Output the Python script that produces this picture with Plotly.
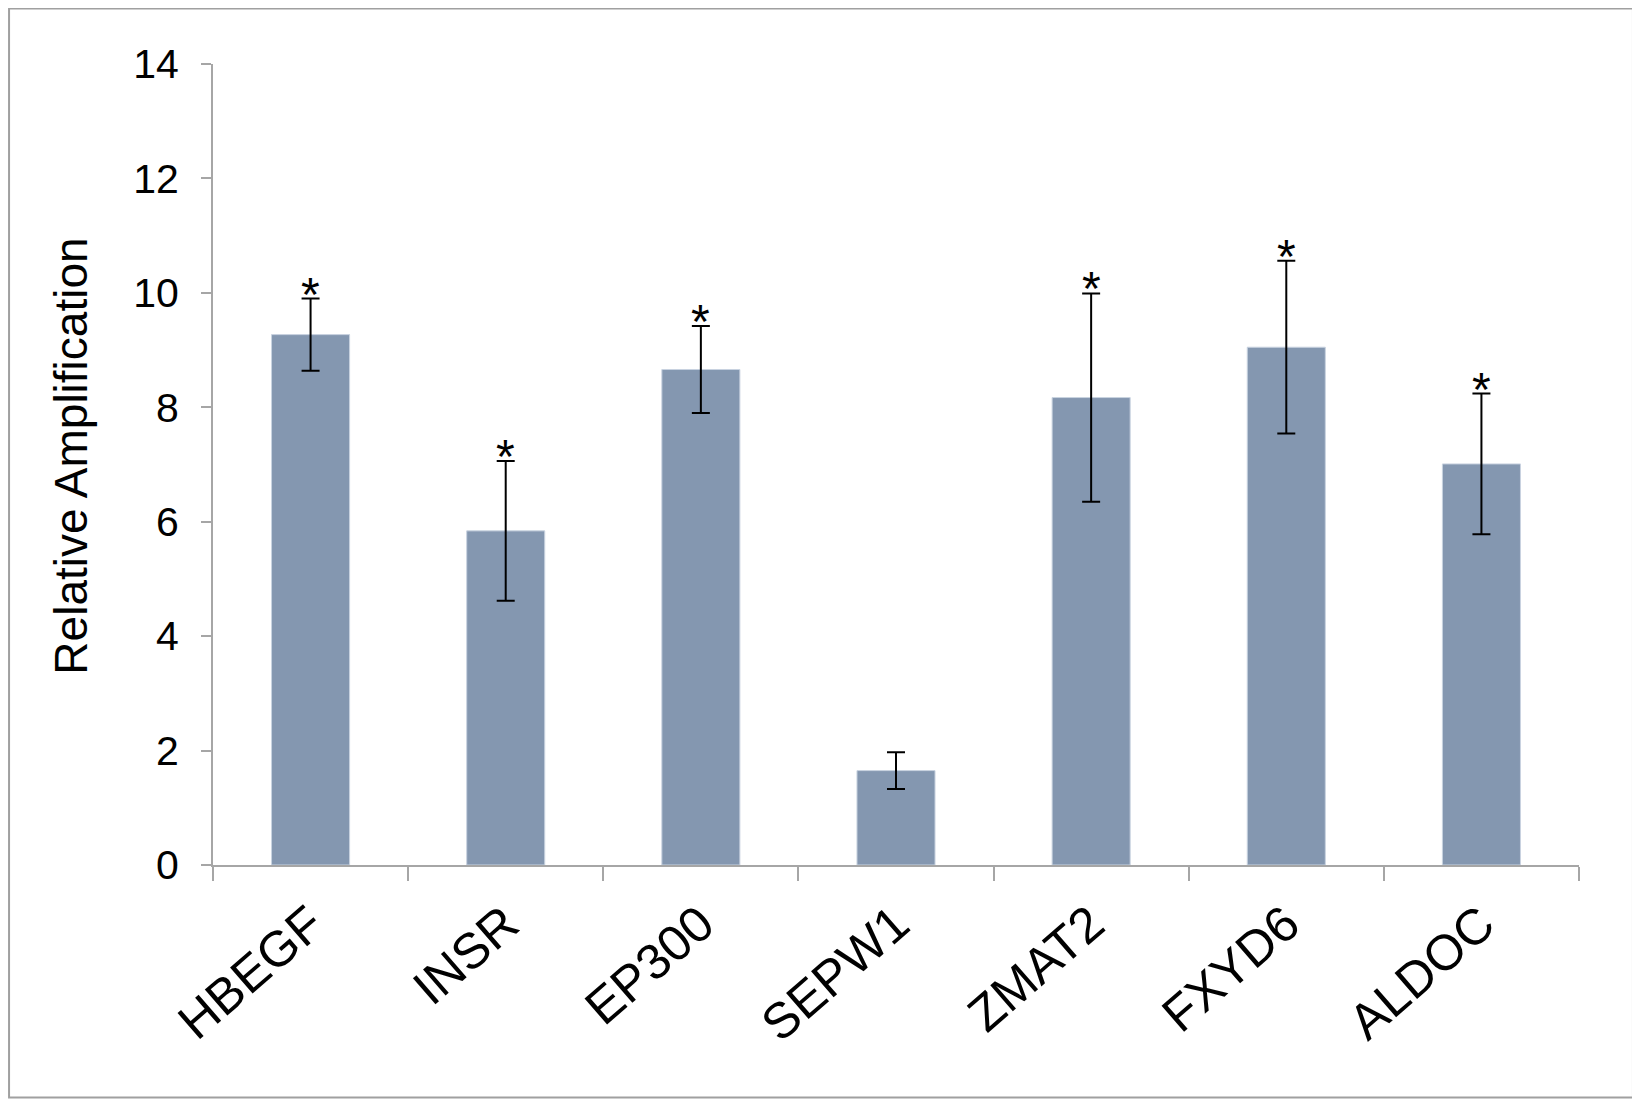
import plotly.graph_objects as go

# values
genes = ["HBEGF", "INSR", "EP300", "SEPW1", "ZMAT2", "FXYD6", "ALDOC"]
amplification = [9.27, 5.84, 8.66, 1.65, 8.17, 9.05, 7.01]
error = [0.63, 1.22, 0.76, 0.32, 1.82, 1.51, 1.23]
significance = ["*", "*", "*", "", "*", "*", "*"]
y_ticks = [0, 2, 4, 6, 8, 10, 12, 14]

BAR_COLOR = "#8497b0"
AXIS_GRAY = "#a6a6a6"
FONT = "Liberation Sans, Arial, sans-serif"

fig = go.Figure()

fig.add_trace(
    go.Bar(
        x=genes,
        y=amplification,
        marker=dict(color=BAR_COLOR, line=dict(color="#c9d3e0", width=1)),
        error_y=dict(
            type="data",
            array=error,
            visible=True,
            color="black",
            thickness=2,
            width=9,
        ),
        showlegend=False,
    )
)

# significance asterisks above the error bars
for gene, val, err, mark in zip(genes, amplification, error, significance):
    if not mark:
        continue
    fig.add_annotation(
        x=gene,
        y=val + err,
        text=mark,
        showarrow=False,
        yanchor="bottom",
        yshift=-24,
        font=dict(family=FONT, size=48, color="black"),
    )

# y-axis title drawn as annotation so it sits where the original does
fig.add_annotation(
    xref="paper",
    yref="paper",
    x=-0.104,
    y=0.511,
    xanchor="center",
    yanchor="middle",
    text="Relative Amplification",
    textangle=-90,
    showarrow=False,
    font=dict(family=FONT, size=46, color="black"),
)

# outer frame around the whole chart
fig.add_shape(
    type="rect",
    xref="paper",
    yref="paper",
    x0=-0.1493,
    x1=1.0395,
    y0=-0.2903,
    y1=1.0693,
    line=dict(color="#a0a0a0", width=2),
    layer="below",
)

fig.update_layout(
    width=1640,
    height=1105,
    margin=dict(l=205, r=69, t=56, b=248),
    plot_bgcolor="white",
    paper_bgcolor="white",
    bargap=0.6,
    font=dict(family=FONT, color="black"),
    xaxis=dict(
        type="category",
        showline=True,
        linecolor=AXIS_GRAY,
        linewidth=2,
        ticks="outside",
        tickson="boundaries",
        ticklen=14,
        tickwidth=2,
        tickcolor=AXIS_GRAY,
        tickangle=-41,
        ticklabelstandoff=8,
        tickfont=dict(family=FONT, size=50, color="black"),
        showgrid=False,
        zeroline=False,
    ),
    yaxis=dict(
        range=[0, 14],
        tickvals=y_ticks,
        showline=True,
        linecolor=AXIS_GRAY,
        linewidth=2,
        ticks="outside",
        ticklen=10,
        tickwidth=2,
        tickcolor=AXIS_GRAY,
        ticklabelstandoff=14,
        tickfont=dict(family=FONT, size=41, color="black"),
        showgrid=False,
        zeroline=False,
    ),
)

fig.write_html("out.html")
